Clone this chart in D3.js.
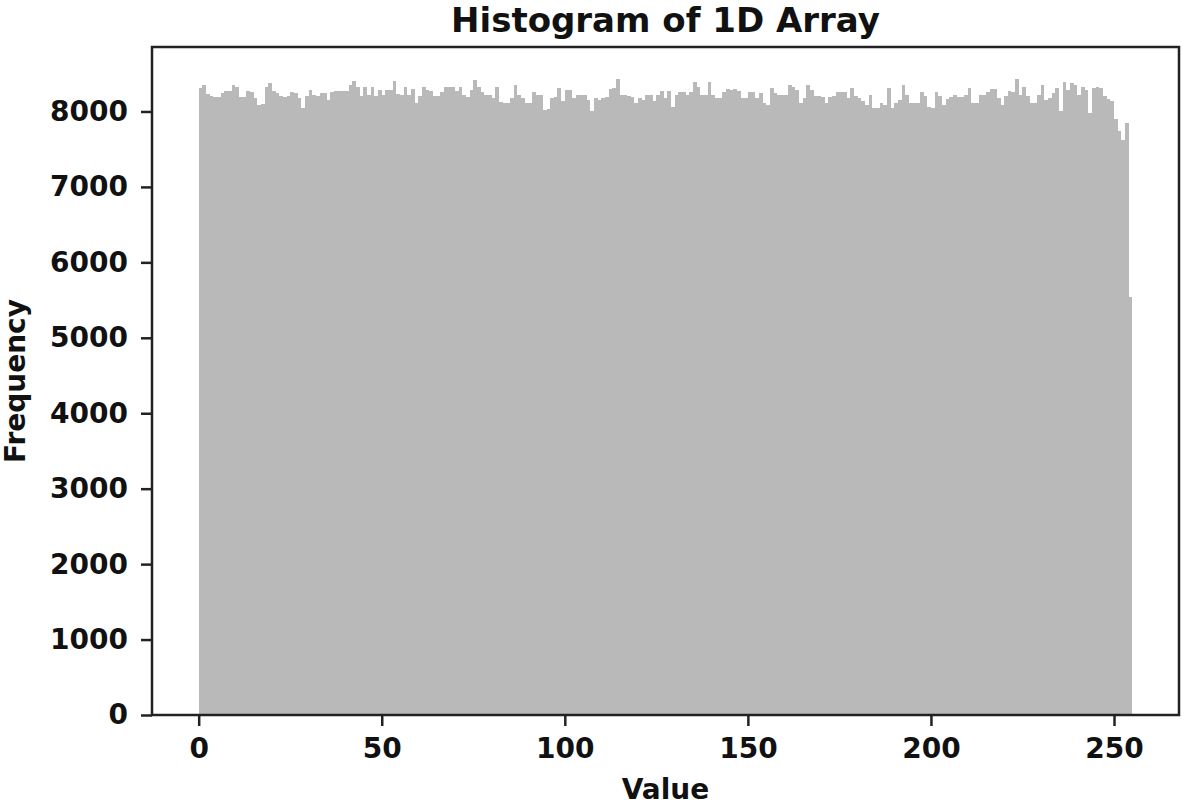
<!DOCTYPE html>
<html>
<head>
<meta charset="utf-8">
<script src="https://cdn.jsdelivr.net/npm/d3@7"></script>
<style>
  body { margin: 0; background: #fff; }
  svg text { font-family: "DejaVu Sans", sans-serif; font-weight: bold; fill: #111; }
</style>
</head>
<body>
<div id="chart"></div>
<script>
// histogram counts, one per unit-wide bin starting at 0
const counts = [
  8309, 8345, 8230, 8199, 8186, 8186, 8243, 8265, 8274, 8345, 8331, 8186, 8186, 8265, 8256, 8177,
  8089, 8097, 8331, 8375, 8265, 8243, 8199, 8195, 8199, 8256, 8247, 8177, 8044, 8199, 8287, 8221,
  8199, 8247, 8247, 8155, 8256, 8265, 8265, 8265, 8265, 8353,
  8398, 8331, 8199, 8331, 8221, 8331, 8199, 8287, 8212, 8287, 8287, 8398, 8230, 8221, 8318, 8221,
  8300, 8111, 8199, 8318, 8287, 8274, 8199, 8199, 8256, 8331, 8331, 8318, 8265, 8331, 8221, 8186,
  8287, 8420, 8331, 8256, 8221, 8212, 8177, 8331, 8124, 8111, 8111,
  8177, 8345, 8212, 8177, 8111, 8111, 8256, 8221, 8212, 8022, 8035, 8177, 8186, 8309, 8133, 8287,
  8287, 8177, 8221, 8212, 8212, 8155, 8000, 8177, 8155, 8177, 8186, 8300, 8309, 8433, 8221, 8212,
  8199, 8186, 8111, 8177, 8155, 8221, 8212, 8133, 8221, 8265, 8177,
  8265, 8053, 8221, 8256, 8256, 8221, 8256, 8389, 8318, 8221, 8212, 8389, 8221, 8177, 8177, 8256,
  8300, 8287, 8300, 8274, 8177, 8177, 8256, 8256, 8177, 8243, 8111, 8089, 8309, 8243, 8212, 8221,
  8221, 8345, 8318, 8287, 8111, 8177, 8345, 8287, 8199, 8199, 8186,
  8111, 8186, 8199, 8256, 8256, 8256, 8177, 8309, 8199, 8177, 8141, 8089, 8212, 8044, 8044, 8111,
  8089, 8309, 8044, 8111, 8155, 8345, 8221, 8111, 8111, 8111, 8256, 8199, 8053, 8044, 8256, 8199,
  8089, 8168, 8186, 8221, 8186, 8186, 8221, 8309, 8111, 8111, 8221,
  8221, 8256, 8300, 8300, 8177, 8089, 8199, 8265, 8256, 8433, 8221, 8331, 8199, 8111, 8111, 8212,
  8345, 8155, 8177, 8243, 8309, 8009, 8389, 8287, 8375, 8345, 8221, 8331, 8287, 7978, 8313, 8327,
  8305, 8203, 8168, 8137, 7894, 7739, 7620, 7850, 5540
];
const binWidth = 1;
const xTicks = [0, 50, 100, 150, 200, 250];
const yTicks = [0, 1000, 2000, 3000, 4000, 5000, 6000, 7000, 8000];

const bins = counts.map((c, i) => ({ x0: i * binWidth, x1: (i + 1) * binWidth, count: c }));

const width = 1182, height = 807;
const margin = { top: 47, right: 3, bottom: 92, left: 152 };

const svg = d3.select("#chart").append("svg")
  .attr("width", width)
  .attr("height", height);

const lo = bins[0].x0, hi = bins[bins.length - 1].x1;
const pad = (hi - lo) * 0.05;
const x = d3.scaleLinear()
  .domain([lo - pad, hi + pad])
  .range([margin.left, width - margin.right]);

const y = d3.scaleLinear()
  .domain([0, d3.max(counts) * 1.05])
  .range([height - margin.bottom, margin.top]);

// bars
svg.append("g")
  .selectAll("rect")
  .data(bins)
  .join("rect")
  .attr("x", d => x(d.x0))
  .attr("width", d => x(d.x1) - x(d.x0))
  .attr("y", d => y(d.count))
  .attr("height", d => y(0) - y(d.count))
  .attr("fill", "#b9b9b9")
  .attr("shape-rendering", "crispEdges");

// axes
const xAxis = svg.append("g")
  .attr("transform", `translate(0,${height - margin.bottom})`)
  .call(d3.axisBottom(x).tickValues(xTicks).tickFormat(d3.format("d")).tickSize(11).tickPadding(12));

const yAxis = svg.append("g")
  .attr("transform", `translate(${margin.left},0)`)
  .call(d3.axisLeft(y).tickValues(yTicks).tickFormat(d3.format("d")).tickSize(11).tickPadding(13));

[xAxis, yAxis].forEach(g => {
  g.select(".domain").remove();
  g.selectAll(".tick line").attr("stroke", "#222").attr("stroke-width", 2.5);
  g.selectAll(".tick text").attr("font-size", 28).attr("fill", "#111");
});

// frame
svg.append("rect")
  .attr("x", margin.left)
  .attr("y", margin.top)
  .attr("width", width - margin.right - margin.left)
  .attr("height", height - margin.bottom - margin.top)
  .attr("fill", "none")
  .attr("stroke", "#222")
  .attr("stroke-width", 2.5);

// labels
svg.append("text")
  .attr("x", (margin.left + width - margin.right) / 2)
  .attr("y", 32)
  .attr("text-anchor", "middle")
  .attr("font-size", 34)
  .text("Histogram of 1D Array");

svg.append("text")
  .attr("x", (margin.left + width - margin.right) / 2)
  .attr("y", 799)
  .attr("text-anchor", "middle")
  .attr("font-size", 28)
  .text("Value");

svg.append("text")
  .attr("transform", `translate(25,${(margin.top + height - margin.bottom) / 2}) rotate(-90)`)
  .attr("text-anchor", "middle")
  .attr("font-size", 28)
  .text("Frequency");
</script>
</body>
</html>
